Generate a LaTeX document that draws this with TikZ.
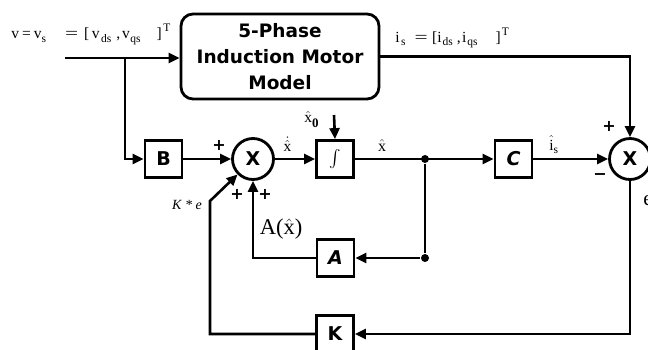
\documentclass[tikz,border=0pt]{standalone}
\usepackage{amsmath}
\usepackage{graphicx}
\usepackage{fontspec}
\setmainfont{Liberation Serif}
\newfontfamily\boxfont{DejaVu Sans}
\usetikzlibrary{arrows.meta}
\newcommand\lsub[1]{\raisebox{-3.5pt}{\fontsize{11.5}{12}\selectfont #1}}
\newcommand\lsupx[1]{\raisebox{7pt}{\fontsize{11.5}{12}\selectfont #1}}
\newcommand\weq{\scalebox{1.5}[1]{=}}
\begin{document}
\begin{tikzpicture}[x=1pt,y=-1pt,
  line width=2.6pt,
  >={Triangle[length=11pt,width=10pt]},
  blk/.style={draw,line width=2.8pt,minimum width=37pt,minimum height=37pt,inner sep=0pt,
    font=\boxfont\bfseries\fontsize{19}{19}\selectfont},
  sumnode/.style={draw,circle,line width=2.8pt,minimum size=41pt,inner sep=0pt,
    font=\boxfont\bfseries\fontsize{19}{19}\selectfont},
  lbl/.style={font=\fontsize{15.5}{17}\selectfont,inner sep=0pt},
  sgn/.style={font=\boxfont\bfseries\fontsize{16}{16}\selectfont,inner sep=0pt},
  jdot/.style={circle,fill,inner sep=0pt,minimum size=8pt}]
\useasboundingbox (0,0) rectangle (648,349);

% blocks
\node[draw,rounded corners=12pt,line width=2.8pt,minimum width=198pt,minimum height=85pt,
  align=center,inner sep=0pt,font=\boxfont\bfseries\fontsize{18.5}{26}\selectfont]
  (motor) at (280,56.5) {5-Phase\\Induction Motor\\Model};
\node[blk] (B) at (163.5,159) {B};
\node[sumnode] (X1) at (253,159) {X};
\node[blk] (int) at (335,159) {$\int$};
\node[blk] (C) at (513.5,159) {\itshape C};
\node[sumnode] (X2) at (630,159) {X};
\node[blk] (A) at (335.5,258) {\itshape A};
\node[blk] (K) at (335,334) {K};
\node[jdot] (d1) at (425,159) {};
\node[jdot] (d2) at (425,258) {};

% coordinates
\coordinate (in) at (65,58);
\coordinate (br) at (125,58);
\coordinate (kb) at (210,201);
\coordinate (x0) at (334,115);

% connectors
\draw[->] (in) -- (in -| motor.west);
\draw[->] (br) |- (B.west);
\draw[->] (B.east) -- (X1.west);
\draw[->] (X1.east) -- (int.west);
\draw[->] (int.east) -- (C.west);
\draw[->] (C.east) -- (X2.west);
\draw[->] (motor.east) -| (X2.north);
\draw[->] (X2.south) |- (K.east);
\draw[->] (K.west) -| (kb) -- (X1.225);
\draw (d1) -- (d2);
\draw[->] (d2) -- (A.east);
\draw[->] (A.west) -| (X1.south);
\draw[->] (x0) -- (int.north);

% labels
\node[lbl,anchor=base west] (lin) at (10,38.5)
  {v\hspace{3pt}=\hspace{3pt}v\lsub{s}\hspace{19pt}\weq\hspace{6pt}[\hspace{2.5pt}v\hspace{1.5pt}\lsub{ds}\hspace{5pt},\hspace{2pt}v\hspace{0.5pt}\lsub{qs}\hspace{16pt}]\hspace{1.5pt}\lsupx{T}};
\node[lbl,anchor=base west] (lout) at (394,42)
  {i\hspace{1.5pt}\lsub{s}\hspace{9pt}\weq\hspace{4.5pt}[i\hspace{1pt}\lsub{ds}\hspace{4pt},\hspace{1.3pt}i\hspace{1pt}\lsub{qs}\hspace{18pt}]\hspace{1pt}\lsupx{T}};
\node[lbl,anchor=base] (lxd) at (287.5,151) {$\dot{\hat{\text{x}}}$};
\node[lbl,anchor=base west] (lx0) at (303,122) {$\hat{\text{x}}$\raisebox{-5pt}{\fontsize{13}{14}\selectfont\bfseries 0}};
\node[lbl,anchor=base,font=\fontsize{16}{18}\selectfont] (lx) at (382,151) {$\hat{\text{x}}$};
\node[lbl,anchor=base west] (lis) at (548,150) {$\hat{\text{i}}$\lsub{s}};
\node[lbl,font=\fontsize{22.5}{24}\selectfont] (lax) at (281,229) {A($\hat{\text{x}}$)};
\node[lbl,anchor=base,font=\itshape\fontsize{14}{16}\selectfont] (lke) at (187,209) {K * e};
\node[lbl,anchor=base west,font=\fontsize{21}{22}\selectfont] (le) at (642,205) {e};
\node[sgn] (p1) at (219,145) {+};
\node[sgn] (p2) at (237,194) {+};
\node[sgn] (p3) at (265,194) {+};
\node[sgn] (p4) at (609,126) {+};
\node[sgn] (m1) at (600,177) {−};
\end{tikzpicture}
\end{document}
